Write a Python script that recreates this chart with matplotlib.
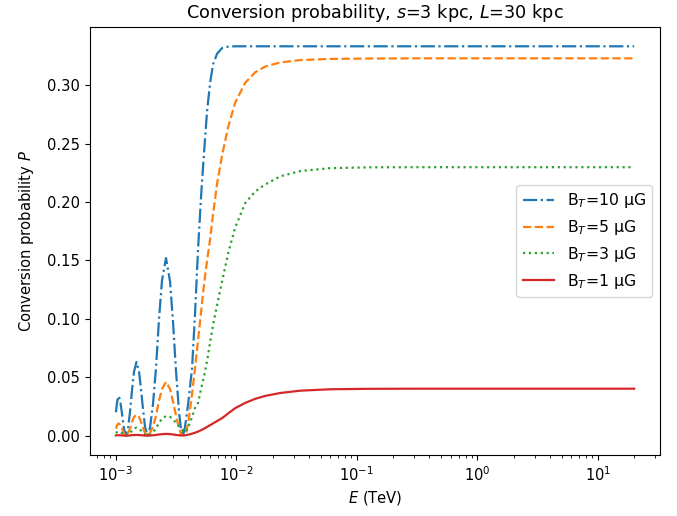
import numpy as np
import matplotlib
matplotlib.use("Agg")
import matplotlib.pyplot as plt

plt.rcParams.update({"font.size": 10.6, "lines.linewidth": 1.6})

# energies (TeV)
E = [1.000e-3, 1.019e-3, 1.049e-3, 1.080e-3, 1.122e-3, 1.166e-3, 1.211e-3,
     1.258e-3, 1.307e-3, 1.358e-3, 1.411e-3, 1.480e-3, 1.553e-3, 1.613e-3,
     1.676e-3, 1.742e-3, 1.827e-3, 1.917e-3, 2.030e-3, 2.150e-3, 2.277e-3,
     2.412e-3, 2.603e-3, 2.811e-3, 2.977e-3, 3.153e-3, 3.340e-3, 3.470e-3,
     3.605e-3, 3.746e-3, 3.892e-3, 4.044e-3, 4.283e-3, 4.536e-3, 4.804e-3,
     5.088e-3, 5.389e-3, 5.707e-3, 6.045e-3, 6.402e-3, 6.911e-3, 7.603e-3,
     8.531e-3, 9.754e-3, 1.181e-2, 1.430e-2, 1.732e-2, 2.308e-2, 3.385e-2,
     6.010e-2, 0.1292, 0.3365, 1.556, 10.0, 20.0]

# B_T = 10 uG
P10 = [0.020, 0.028, 0.034, 0.031, 0.019, 0.0056, 0.0,
       0.0055, 0.020, 0.0385, 0.0546, 0.063, 0.055, 0.040,
       0.023, 0.0077, 0.0, 0.0068, 0.027, 0.058, 0.100,
       0.133, 0.152, 0.132, 0.097, 0.055, 0.020, 0.005,
       0.0, 0.008, 0.020, 0.034, 0.058, 0.105, 0.160,
       0.205, 0.243, 0.278, 0.302, 0.318, 0.327, 0.3318,
       0.3330, 0.3333, 0.3333, 0.3333, 0.3333, 0.3333, 0.3333,
       0.3333, 0.3333, 0.3333, 0.3333, 0.3333, 0.3333]

# B_T = 5 uG
P5 = [0.006, 0.0085, 0.0105, 0.0095, 0.006, 0.0017, 0.0,
      0.0017, 0.006, 0.0115, 0.016, 0.018, 0.016, 0.012,
      0.007, 0.0023, 0.0, 0.002, 0.008, 0.017, 0.030,
      0.040, 0.046, 0.040, 0.029, 0.017, 0.006, 0.0015,
      0.0005, 0.0, 0.006, 0.016, 0.036, 0.058, 0.082,
      0.106, 0.130, 0.150, 0.168, 0.190, 0.216, 0.240,
      0.264, 0.285, 0.302, 0.311, 0.316, 0.3195, 0.3215,
      0.3225, 0.3228, 0.323, 0.323, 0.323, 0.323]

# B_T = 3 uG
P3 = [0.0022, 0.003, 0.0037, 0.0034, 0.0021, 0.0006, 0.0,
      0.0006, 0.0022, 0.0042, 0.006, 0.0069, 0.006, 0.0044,
      0.0025, 0.0008, 0.0, 0.0007, 0.003, 0.0064, 0.011,
      0.0146, 0.0167, 0.016, 0.014, 0.011, 0.008, 0.006,
      0.004, 0.003, 0.005, 0.009, 0.016, 0.024, 0.028,
      0.040, 0.051, 0.064, 0.080, 0.095, 0.112, 0.132,
      0.156, 0.178, 0.199, 0.209, 0.215, 0.222, 0.2265,
      0.2290, 0.2297, 0.2298, 0.2298, 0.2298, 0.2298]

# B_T = 1 uG
P1 = [0.0002, 0.0003, 0.0004, 0.0003, 0.0002, 0.0001, 0.0,
      0.0001, 0.0002, 0.0004, 0.0005, 0.0006, 0.0005, 0.0004,
      0.0002, 0.0001, 0.0, 0.0001, 0.0003, 0.0006, 0.0010,
      0.0013, 0.0015, 0.0013, 0.0010, 0.0006, 0.0003, 0.0002,
      0.0002, 0.0003, 0.0006, 0.0010, 0.0017, 0.0025, 0.0035,
      0.0047, 0.0060, 0.0075, 0.0090, 0.0105, 0.0125, 0.0150,
      0.0190, 0.0235, 0.0280, 0.0315, 0.0340, 0.0365, 0.0385,
      0.0397, 0.0401, 0.0402, 0.0402, 0.0402, 0.0402]

labels = ["B$_T$=10 μG", "B$_T$=5 μG", "B$_T$=3 μG", "B$_T$=1 μG"]


fig = plt.figure(figsize=(6.77, 5.16), dpi=100)
ax = fig.add_axes([0.133, 0.118, 0.842, 0.830])

ax.plot(E, P10, '-.', color='tab:blue', label=labels[0])
ax.plot(E, P5, '--', color='tab:orange', label=labels[1])
ax.plot(E, P3, ':', color='tab:green', label=labels[2])
ax.plot(E, P1, '-', color='tab:red', label=labels[3])

ax.set_xscale('log')
ax.set_xlabel('$E$ (TeV)')
ax.set_ylabel('Conversion probability $P$', labelpad=8)
ax.set_title('Conversion probability, $s$=3 kpc, $L$=30 kpc')
ax.legend(loc='center right', fontsize=11.3)

plt.savefig('out.png', dpi=100)
